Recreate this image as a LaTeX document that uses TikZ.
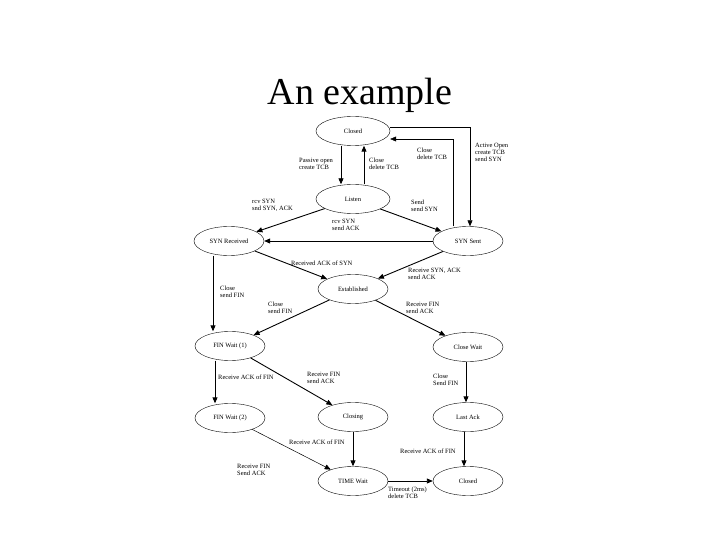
\documentclass[tikz,border=0pt]{standalone}
\usepackage{fontspec}
\setmainfont{Liberation Serif}
\usetikzlibrary{arrows.meta,shapes.geometric}
\begin{document}
\begin{tikzpicture}[x=1pt,y=-1pt,
  st/.style={draw,ellipse,minimum width=70pt,minimum height=29pt,inner sep=0pt,font=\fontsize{6.5}{7}\selectfont},
  lab/.style={font=\fontsize{6.5}{7}\selectfont,align=left,inner sep=0pt},
  ar/.style={draw,line width=0.9pt,-{Triangle[length=6pt,width=5pt]}},
  thinar/.style={draw,line width=0.5pt,-{Triangle[length=6pt,width=5pt]}}]
\useasboundingbox[fill=white] (0,0) rectangle (720,540);
\node[font=\fontsize{38}{40}\selectfont] (title) at (360,95) {An example};
\node[st,minimum width=74pt] (cl) at (353,131) {Closed};
\node[st,minimum width=74pt] (li) at (353,199) {Listen};
\node[st] (sr) at (229,241) {SYN Received};
\node[st] (ss) at (468,241) {SYN Sent};
\node[st] (es) at (353,289) {Established};
\node[st] (f1) at (230,346) {FIN Wait (1)};
\node[st] (cw) at (468,347) {Close Wait};
\node[st] (f2) at (230,418) {FIN Wait (2)};
\node[st] (cg) at (353,417) {Closing};
\node[st] (la) at (468,417) {Last Ack};
\node[st] (tw) at (353,481) {TIME Wait};
\node[st] (c2) at (468,481) {Closed};
\coordinate (k1) at (453,139);
\coordinate (k2) at (470,127);
\draw[ar] (cl.south -| 341,0) -- (li.north -| 341,0);
\draw[ar] (li.north -| 364,0) -- (cl.south -| 364,0);
\draw[thinar] (ss.north -| 453,0) -- (k1) -- (k1 -| cl.east);
\draw[thinar] (cl.east |- k2) -- (k2) -- (ss.north -| k2);
\draw[ar] (li) -- (sr);
\draw[ar] (li) -- (ss);
\draw[ar] (ss) -- (sr);
\draw[ar] (sr) -- (es);
\draw[ar] (ss) -- (es);
\draw[ar] (sr.south -| 213,0) -- (f1.north -| 213,0);
\draw[ar] (es) -- (f1);
\draw[ar] (es) -- (cw);
\draw[ar] (f1.south -| 215,0) -- (f2.north -| 215,0);
\draw[ar] (f1) -- (cg);
\draw[ar] (cw.south -| 466,0) -- (la.north -| 466,0);
\draw[thinar] (f2) -- (tw);
\draw[ar] (cg) -- (tw);
\draw[ar] (la.south -| 464,0) -- (c2.north -| 464,0);
\draw[ar] (tw) -- (c2);
\node[lab,anchor=west] (t1) at (299,164) {Passive open\\create TCB};
\node[lab,anchor=west] (t2) at (369,164) {Close\\delete TCB};
\node[lab,anchor=west] (t3) at (417,154) {Close\\delete TCB};
\node[lab,anchor=west] (t4) at (475,152) {Active Open\\create TCB\\send SYN};
\node[lab,anchor=west] (t5) at (252,205) {rcv SYN\\snd SYN, ACK};
\node[lab,anchor=west] (t6) at (411,206) {Send\\send SYN};
\node[lab,anchor=west] (t7) at (332,225) {rcv SYN\\send ACK};
\node[lab,anchor=west] (t8) at (291,263) {Received ACK of SYN};
\node[lab,anchor=west] (t9) at (408,274) {Receive SYN, ACK\\send ACK};
\node[lab,anchor=west] (t10) at (220,292) {Close\\send FIN};
\node[lab,anchor=west] (t11) at (268,308) {Close\\send FIN};
\node[lab,anchor=west] (t12) at (406,308) {Receive FIN\\send ACK};
\node[lab,anchor=west] (t13) at (218,377) {Receive ACK of FIN};
\node[lab,anchor=west] (t14) at (307,378) {Receive FIN\\send ACK};
\node[lab,anchor=west] (t15) at (433,380) {Close\\Send FIN};
\node[lab,anchor=west] (t16) at (289,442) {Receive ACK of FIN};
\node[lab,anchor=west] (t17) at (400,451) {Receive ACK of FIN};
\node[lab,anchor=west] (t18) at (237,470) {Receive FIN\\Send ACK};
\node[lab,anchor=west] (t19) at (388,493) {Timeout (2ms)\\delete TCB};
\end{tikzpicture}
\end{document}
